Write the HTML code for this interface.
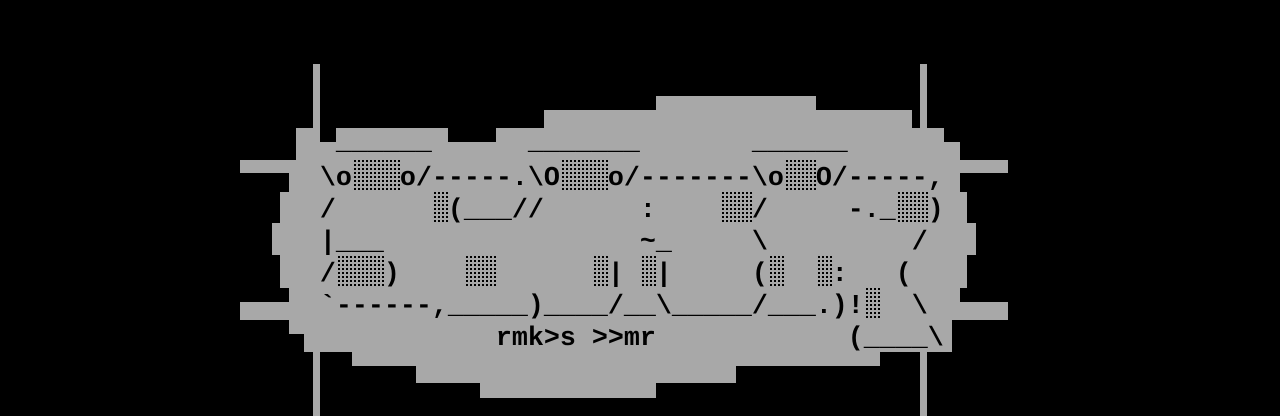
<!DOCTYPE html>
<html><head><meta charset="utf-8"><style>
html,body{margin:0;padding:0;background:#000;}
#c{position:relative;width:1280px;height:416px;overflow:hidden;background:#000;}
.g{position:absolute;background:#a8a8a8;}
.k{position:absolute;background:#000;}
pre{position:absolute;left:0;margin:0;font-family:"Liberation Mono",monospace;font-size:26.6667px;line-height:32px;height:32px;color:#000;font-weight:bold;white-space:pre;}
.s{position:absolute;width:16px;height:32px;background:conic-gradient(#000 25%,transparent 0) 0 0/4px 4px;}
</style></head><body><div id="c">
<div class="g" style="left:656px;top:96px;width:160px;height:14px"></div>
<div class="g" style="left:544px;top:110px;width:368px;height:18px"></div>
<div class="g" style="left:296px;top:128px;width:152px;height:14px"></div>
<div class="k" style="left:320px;top:128px;width:16px;height:14px"></div>
<div class="g" style="left:496px;top:128px;width:448px;height:14px"></div>
<div class="g" style="left:296px;top:142px;width:664px;height:18px"></div>
<div class="g" style="left:240px;top:160px;width:768px;height:13px"></div>
<div class="g" style="left:289px;top:173px;width:671px;height:19px"></div>
<div class="g" style="left:280px;top:192px;width:687px;height:31px"></div>
<div class="g" style="left:272px;top:223px;width:704px;height:32px"></div>
<div class="g" style="left:280px;top:255px;width:687px;height:33px"></div>
<div class="g" style="left:289px;top:288px;width:671px;height:14px"></div>
<div class="g" style="left:240px;top:302px;width:768px;height:18px"></div>
<div class="g" style="left:289px;top:320px;width:663px;height:14px"></div>
<div class="g" style="left:304px;top:334px;width:648px;height:18px"></div>
<div class="g" style="left:352px;top:352px;width:528px;height:14px"></div>
<div class="g" style="left:416px;top:366px;width:320px;height:17px"></div>
<div class="g" style="left:480px;top:383px;width:176px;height:15px"></div>
<div class="g" style="left:313px;top:64px;width:7px;height:352px"></div>
<div class="g" style="left:920px;top:64px;width:7px;height:352px"></div>

<div class="s" style="left:352px;top:160px;width:48px"></div>
<div class="s" style="left:560px;top:160px;width:48px"></div>
<div class="s" style="left:784px;top:160px;width:32px"></div>
<div class="s" style="left:432px;top:192px"></div>
<div class="s" style="left:720px;top:192px;width:32px"></div>
<div class="s" style="left:896px;top:192px;width:32px"></div>
<div class="s" style="left:336px;top:256px;width:48px"></div>
<div class="s" style="left:464px;top:256px;width:32px"></div>
<div class="s" style="left:592px;top:256px"></div>
<div class="s" style="left:640px;top:256px"></div>
<div class="s" style="left:768px;top:256px"></div>
<div class="s" style="left:816px;top:256px"></div>
<div class="s" style="left:864px;top:288px"></div>

<pre style="top:127px">                     ______      _______       ______</pre>
<pre style="top:163px">                    \o   o/-----.\O   o/-------\o  O/-----,</pre>
<pre style="top:195px">                    /       (___//      :      /     -._  )</pre>
<pre style="top:227px">                    |___                ~_     \         /</pre>
<pre style="top:259px">                    /   )             |  |     (    :   (</pre>
<pre style="top:291px">                    `------,_____)____/__\_____/___.)!   \</pre>
<pre style="top:323px">                               rmk>s >>mr            (____\</pre>
</div></body></html>
